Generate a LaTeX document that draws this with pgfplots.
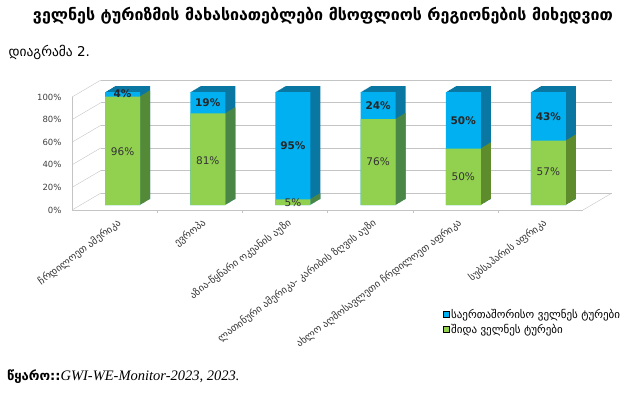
\documentclass[border=0pt]{standalone}
\usepackage{fontspec}
\setmainfont{DejaVu Sans}
\newfontfamily\tnr{Liberation Serif}
\usepackage{pgfplots}
\usepackage{pgfplotstable}
\pgfplotsset{compat=1.18}
\definecolor{gfront}{HTML}{92D050}
\definecolor{gside}{HTML}{5E8C2C}
\definecolor{bfront}{HTML}{00B0F0}
\definecolor{bside}{HTML}{0A76A2}
\definecolor{gridc}{HTML}{C4C4C4}
\pgfplotstableread{
x g b
0 96 4
1 81 19
2 5 95
3 76 24
4 50 50
5 57 43
}\data
\begin{document}
\begin{tikzpicture}[x=1pt,y=1pt]
\useasboundingbox (0,0) rectangle (631,392);
\node[font=\bfseries\fontsize{16}{18}\selectfont] at (323,376) {ველნეს ტურიზმის მახასიათებლები მსოფლიოს რეგიონების მიხედვით};
\node[anchor=west,font=\fontsize{13.5}{15}\selectfont] at (5,340) {დიაგრამა 2.};
\node[anchor=west,inner sep=2pt] at (5,15) {{\bfseries\fontsize{13}{15}\selectfont წყარო::}{\tnr\itshape\fontsize{14.5}{16}\selectfont GWI-WE-Monitor-2023, 2023.}};
\begin{axis}[
  at={(72pt,182pt)}, anchor=south west, scale only axis,
  width=511pt, height=113pt,
  xmin=-0.5, xmax=5.5, ymin=0, ymax=100,
  clip=false,
  axis x line*=bottom, axis y line*=left,
  axis line style={gridc,-},
  ytick={0,20,40,60,80,100},
  yticklabel={\pgfmathprintnumber{\tick}\%},
  yticklabel style={font=\fontsize{8.5}{10}\selectfont, text=black!75, xshift=-7pt},
  /pgf/number format/assume math mode=true,
  xtick={0,1,2,3,4,5},
  xticklabels={ჩრდილოეთ ამერიკა, ევროპა, აზია-წყნარი ოკეანის აუზი, ლათინური ამერიკა- კარიბის ზღვის აუზი, ახლო აღმოსავლეთი ჩრდილოეთ აფრიკა, სუბსაჰარის აფრიკა},
  xticklabel style={rotate=37, anchor=north east, font=\fontsize{10}{12}\selectfont, text=black!80, yshift=-4pt},
  major tick length=0pt,
  extra x ticks={0.5,1.5,2.5,3.5,4.5}, extra x tick labels={},
  extra x tick style={major tick length=3pt, tick align=outside, tick style={gridc}},
  legend style={at={(0.72,-0.84)}, anchor=north west, draw=none, fill=none,
    font=\fontsize{11}{12}\selectfont, row sep=0pt, cells={anchor=west}},
  legend image code/.code={\fill[#1] (0pt,-2.8pt) rectangle (5.6pt,2.8pt);},
]
\pgfplotsinvokeforeach{0,20,40,60,80,100}{
  \draw[gridc] ([xshift=29pt,yshift=17pt]axis cs:-0.5,#1) -- ([xshift=29pt,yshift=17pt]axis cs:5.5,#1);
  \draw[gridc] (axis cs:-0.5,#1) -- ([xshift=29pt,yshift=17pt]axis cs:-0.5,#1);
}
\draw[gridc] (axis cs:5.5,0) -- ([xshift=29pt,yshift=17pt]axis cs:5.5,0);
\pgfplotsinvokeforeach{10,9,8,7,6,5,4,3,2,1}{
  \addplot[ybar, bar width=35pt, bar shift=0pt, fill=bside, draw=none, forget plot,
    xshift={8pt+#1pt}, yshift={5pt+0.6*#1pt}] table[x=x, y expr=\thisrow{g}+\thisrow{b}] {\data};
  \addplot[ybar, bar width=35pt, bar shift=0pt, fill=gside, draw=none, forget plot,
    xshift={8pt+#1pt}, yshift={5pt+0.6*#1pt}] table[x=x, y=g] {\data};
}
\addplot[ybar, bar width=35pt, bar shift=0pt, fill=bfront, draw=none, forget plot,
  xshift=8pt, yshift=5pt] table[x=x, y expr=\thisrow{g}+\thisrow{b}] {\data};
\addplot[ybar, bar width=35pt, bar shift=0pt, fill=gfront, draw=none, forget plot,
  xshift=8pt, yshift=5pt] table[x=x, y=g] {\data};
\addplot[only marks, mark=none, forget plot, nodes near coords, point meta=explicit symbolic,
  nodes near coords style={anchor=center, xshift=8pt, font=\bfseries\fontsize{10.5}{12}\selectfont, text=black!85}]
  coordinates {(0,102.6)[4\%] (1,94.7)[19\%] (2,57)[95\%] (3,92)[24\%] (4,79)[50\%] (5,82.6)[43\%]};
\addplot[only marks, mark=none, forget plot, nodes near coords, point meta=explicit symbolic,
  nodes near coords style={anchor=center, xshift=8pt, font=\fontsize{10.5}{12}\selectfont, text=black!80}]
  coordinates {(0,51.6)[96\%] (1,44)[81\%] (2,6.5)[5\%] (3,43)[76\%] (4,29.5)[50\%] (5,33.6)[57\%]};
\addlegendimage{fill=bfront}
\addlegendentry{საერთაშორისო ველნეს ტურები}
\addlegendimage{fill=gfront}
\addlegendentry{შიდა ველნეს ტურები}
\end{axis}
\end{tikzpicture}
\end{document}
